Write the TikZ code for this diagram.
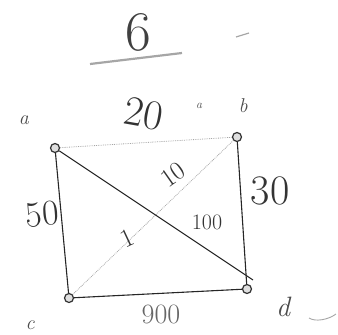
\documentclass[tikz,border=0pt]{standalone}
\usepackage{tikz}
\usetikzlibrary{positioning,calc}
\tikzset{
  vert/.style={
    circle, draw=black!80, fill=gray!25, line width=1.2pt,
    minimum size=9pt, inner sep=0pt
  },
  solidedge/.style={line width=1.1pt, black!85},
  faintedge/.style={line width=0.8pt, gray!70, densely dotted},
  wlbl/.style={font=\fontsize{36}{36}\selectfont, text=black!80, inner sep=0pt},
  vlbl/.style={font=\fontsize{20}{20}\selectfont\itshape, text=black!70, inner sep=0pt}
}

\begin{document}
\begin{tikzpicture}[x=1pt,y=-1pt]
  \useasboundingbox (0,0) rectangle (338,335);

  % title
  \node[font=\fontsize{56}{56}\selectfont, text=black!75, inner sep=0pt] (title) at (138,32) {6};
  \coordinate (ulA) at (90,64);
  \coordinate (ulB) at (182,53);
  \draw[line width=2.2pt, gray!70] (ulA) -- (ulB);
  \coordinate (dashA) at (236,37);
  \coordinate (dashB) at (249,33);
  \draw[line width=1.2pt, gray!70] (dashA) -- (dashB);

  % vertices
  \node[vert] (a) at (55,148) {};
  \node[vert] (b) at (237,137) {};
  \node[vert] (c) at (69,298) {};
  \node[vert] (d) at (247,289) {};

  % vertex names
  \node[vlbl] (na) at (24,120) {a};
  \node[vlbl] (nb) at (243,106) {b};
  \node[vlbl, font=\fontsize{12}{12}\selectfont\itshape] (nx) at (199,106) {a};
  \node[vlbl] (nc) at (30,325) {c};
  \node[vlbl, font=\fontsize{28}{28}\selectfont\itshape] (nd) at (283,307) {d};
  \coordinate (tilA) at (309,318);
  \coordinate (tilB) at (336,314);
  \draw[line width=0.9pt, gray!70] (tilA) .. controls (315,322) and (328,320) .. (tilB);

  % edges
  \coordinate (adEnd) at (253,280);
  \draw[faintedge] (a) -- (b);
  \draw[faintedge] (b) -- (c);
  \draw[solidedge] (a) -- (c);
  \draw[solidedge] (b) -- (d);
  \draw[solidedge] (c) -- (d);
  \draw[solidedge] (a) -- (adEnd);

  % weights
  \node[wlbl, rotate=-10, font=\fontsize{42}{42}\selectfont] (w20) at (144,114) {20};
  \node[wlbl, rotate=35, font=\fontsize{26}{26}\selectfont] (w10) at (173,175) {10};
  \node[wlbl, font=\fontsize{42}{42}\selectfont] (w30) at (270,191) {30};
  \node[wlbl, rotate=5] (w50) at (42,214) {50};
  \node[wlbl, rotate=25, font=\fontsize{26}{26}\selectfont] (w1) at (127,238) {1};
  \node[wlbl, font=\fontsize{22}{22}\selectfont] (w100) at (207,222) {100};
  \node[wlbl, font=\fontsize{28}{28}\selectfont, text=black!60] (w900) at (161,314) {900};
\end{tikzpicture}
\end{document}
